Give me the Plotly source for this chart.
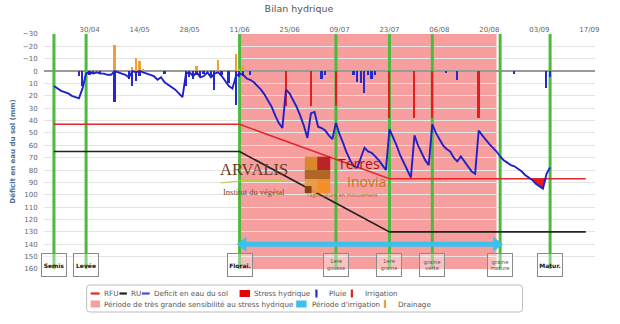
import plotly.graph_objects as go
import numpy as np
import pandas as pd

YEAR = "2019"

# ---------------- data ----------------
deficit_dates = [
    "04-20", "04-21", "04-22", "04-23", "04-24", "04-25", "04-26", "04-27", "04-28", "04-29",
    "04-30", "05-01", "05-02", "05-03", "05-04", "05-05", "05-06", "05-07", "05-08", "05-09",
    "05-10", "05-11", "05-12", "05-13", "05-14", "05-15", "05-16", "05-17", "05-18", "05-19",
    "05-20", "05-21", "05-22", "05-23", "05-24", "05-25", "05-26", "05-27", "05-28", "05-29",
    "05-30", "05-31", "06-01", "06-02", "06-03", "06-04", "06-05", "06-06", "06-07", "06-08",
    "06-09", "06-10", "06-11", "06-12", "06-13", "06-14", "06-15", "06-16", "06-17", "06-18",
    "06-19", "06-20", "06-21", "06-22", "06-23", "06-24", "06-25", "06-26", "06-27", "06-28",
    "06-29", "06-30", "07-01", "07-02", "07-03", "07-04", "07-05", "07-06", "07-07", "07-08",
    "07-09", "07-10", "07-11", "07-12", "07-13", "07-14", "07-15", "07-16", "07-17", "07-18",
    "07-19", "07-20", "07-21", "07-22", "07-23", "07-24", "07-25", "07-26", "07-27", "07-28",
    "07-29", "07-30", "07-31", "08-01", "08-02", "08-03", "08-04", "08-05", "08-06", "08-07",
    "08-08", "08-09", "08-10", "08-11", "08-12", "08-13", "08-14", "08-15", "08-16", "08-17",
    "08-18", "08-19", "08-20", "08-21", "08-22", "08-23", "08-24", "08-25", "08-26", "08-27",
    "08-28", "08-29", "08-30", "08-31", "09-01", "09-02", "09-03", "09-04", "09-05", "09-06",
]
deficit_values = [
    12, 14, 16, 17, 18, 20, 21, 22, 14, 2,
    1, 2, 1, 2, 2, 3, 3, 0, 1, 2,
    3, 5, 0, 1, 0, 1, 2, 3, 4, 7,
    5, 9, 11, 13, 15, 18, 21, 2, 1, 4,
    1, 5, 4, 1, 5, 2, 1, 4, 8, 12,
    14, 4, 2, 3, 6, 7, 9, 12, 15, 19,
    24, 29, 36, 42, 46, 15, 18, 23, 29, 36,
    44, 54, 34, 33, 45, 46, 48, 52, 55, 42,
    51, 58, 66, 72, 77, 78, 70, 62, 65, 66,
    69, 72, 76, 80, 47, 53, 60, 68, 74, 80,
    86, 52, 60, 66, 72, 76, 43, 50, 55, 60,
    63, 65, 70, 73, 69, 73, 77, 81, 83, 48,
    52, 56, 59, 62, 65, 69, 72, 74, 76, 77,
    79, 81, 84, 86, 88, 91, 93, 95, 83, 78,
]

rain_dates = [
    "04-27", "04-28", "04-30", "05-01", "05-03", "05-07", "05-11", "05-12", "05-13", "05-14",
    "05-21", "05-27", "05-28", "05-29", "05-30", "05-31", "06-01", "06-03", "06-04", "06-06",
    "06-08", "06-10", "06-11", "06-12", "06-14", "07-04", "07-05", "07-13", "07-14", "07-15",
    "07-16", "07-17", "07-18", "07-19", "08-08", "08-11", "08-27", "09-05", "09-06",
]
rain_values = [
    4, 12, 3, 2, 2, 25, 6, 12, 8, 4,
    2, 12, 5, 6, 3, 4, 2, 5, 15, 3,
    10, 27, 5, 4, 3, 6, 3, 3, 9, 10,
    18, 3, 6, 3, 1, 7, 2, 14, 5,
]

irrigation_dates = ["06-24", "07-01", "07-08", "07-23", "07-30", "08-04", "08-17"]
irrigation_values = [28, 28, 28, 38, 38, 38, 38]

drainage_dates = ["05-07", "05-12", "05-13", "05-14", "05-15", "05-30", "06-05", "06-10", "06-11", "06-12"]
drainage_values = [-21, -3, -11, -8, -2, -4, -9, -14, -2, -4]

rfu_dates = ["04-20", "06-11", "07-23", "09-16"]
rfu_values = [43, 43, 87, 87]

ru_dates = ["04-20", "06-11", "07-23", "09-16"]
ru_values = [65, 65, 130, 130]

stage_names = ["Semis", "Levée", "Florai.", "1ere<br>gousse", "1ere<br>graine",
               "graine<br>verte", "graine<br>mature", "Matur."]
stage_dates = ["04-20", "04-29", "06-11", "07-08", "07-23", "08-04", "08-23", "09-06"]

sensitive_period = ["06-11", "08-22"]
irrigation_period = ["06-12", "08-22"]
irrigation_period_level = 140

x_tick_dates = ["04-30", "05-14", "05-28", "06-11", "06-25", "07-09", "07-23",
                "08-06", "08-20", "09-03", "09-17"]
x_tick_labels = ["30/04", "14/05", "28/05", "11/06", "25/06", "09/07", "23/07",
                 "06/08", "20/08", "03/09", "17/09"]
y_tick_values = [-30, -20, -10, 0, 10, 20, 30, 40, 50, 60, 70, 80, 90, 100,
                 110, 120, 130, 140, 150, 160]

title_text = "Bilan hydrique"
y_title = "Déficit en eau du sol (mm)"


def full(md_list):
    return [f"{YEAR}-{md}" for md in md_list]


# ---------------- styles ----------------
FONT = "DejaVu Sans"
C_RFU = "#e3282a"
C_RU = "#222222"
C_DEF = "#2020c8"
C_RAIN = "#2828d0"
C_IRR = "#e02020"
C_DRAIN = "#f0a030"
C_STRESS = "#e41e1e"
C_PINK = "#f79e9e"
C_CYAN = "#3cc0ee"
C_GREEN = "#4cba3c"
DAY_MS = 86400000

W, H = 620, 324
ML, MR, MT, MB = 40, 25, 34, 55
PW, PH = W - ML - MR, H - MT - MB


def xp(px):
    return (px - ML) / PW


def yp(py):
    return (H - MB - py) / PH


fig = go.Figure()

# bars
fig.add_trace(go.Bar(x=full(rain_dates), y=rain_values, base=0, width=0.5 * DAY_MS,
                     marker=dict(color=C_RAIN, line=dict(width=0)), name="Pluie",
                     showlegend=False))
fig.add_trace(go.Bar(x=full(irrigation_dates), y=irrigation_values, base=0, width=0.5 * DAY_MS,
                     marker=dict(color=C_IRR, line=dict(width=0)), name="Irrigation",
                     showlegend=False))
fig.add_trace(go.Bar(x=full(drainage_dates), y=drainage_values, base=0, width=0.5 * DAY_MS,
                     marker=dict(color=C_DRAIN, line=dict(width=0)), name="Drainage",
                     showlegend=False))

# irrigation period arrow
fig.add_trace(go.Scatter(
    x=full(irrigation_period), y=[irrigation_period_level] * 2, mode="lines+markers",
    line=dict(color=C_CYAN, width=5),
    marker=dict(symbol=["triangle-left", "triangle-right"], size=13, color=C_CYAN),
    name="Période d'irrigation", showlegend=False, hoverinfo="skip"))

# RFU / RU
fig.add_trace(go.Scatter(x=full(rfu_dates), y=rfu_values, mode="lines",
                         line=dict(color=C_RFU, width=1.6), name="RFU", showlegend=False))
fig.add_trace(go.Scatter(x=full(ru_dates), y=ru_values, mode="lines",
                         line=dict(color=C_RU, width=1.6), name="RU", showlegend=False))

# stress hydrique fill (deficit beyond RFU)
dd = pd.to_datetime(full(deficit_dates))
rd = pd.to_datetime(full(rfu_dates))
d_num = (dd - rd[0]).days.values.astype(float)
r_num = (rd - rd[0]).days.values.astype(float)
rfu_at = np.interp(d_num, r_num, rfu_values)
upper = np.maximum(np.array(deficit_values, float), rfu_at)
fig.add_trace(go.Scatter(x=full(deficit_dates), y=rfu_at, mode="lines", line=dict(width=0),
                         showlegend=False, hoverinfo="skip"))
fig.add_trace(go.Scatter(x=full(deficit_dates), y=upper, mode="lines", line=dict(width=0),
                         fill="tonexty", fillcolor=C_STRESS, name="Stress hydrique",
                         showlegend=False, hoverinfo="skip"))

# deficit
fig.add_trace(go.Scatter(x=full(deficit_dates), y=deficit_values, mode="lines",
                         line=dict(color=C_DEF, width=1.9), name="Deficit en eau du sol",
                         showlegend=False))

shapes = []
# sensitivity period
shapes.append(dict(type="rect", xref="x", yref="y", x0=full(sensitive_period)[0],
                   x1=full(sensitive_period)[1], y0=y_tick_values[0], y1=y_tick_values[-1],
                   fillcolor=C_PINK, line=dict(width=0), layer="below"))
# stage lines
for d in full(stage_dates):
    shapes.append(dict(type="line", xref="x", yref="y", x0=d, x1=d,
                       y0=y_tick_values[0], y1=y_tick_values[-1],
                       line=dict(color=C_GREEN, width=3), layer="between"))

annotations = []
# stage boxes
for name, d in zip(stage_names, full(stage_dates)):
    single = "<br>" not in name
    annotations.append(dict(
        x=d, y=157, xref="x", yref="y", showarrow=False,
        text=f"<b>{name}</b>" if single else name,
        font=dict(family=FONT, size=6 if single else 5.3, color="#111" if single else "#555"),
        width=22, height=20, align="center", valign="middle",
        bgcolor="rgba(255,255,255,0.35)", bordercolor="#8a8a8a", borderwidth=1, borderpad=1))

# ---- manual legend ----
LX0, LX1, LY0, LY1 = 83, 522, 285, 312
r = 3
rx, ry = r / PW, r / PH
x0, x1, y0, y1 = xp(LX0), xp(LX1), yp(LY1), yp(LY0)
path = (f"M {x0+rx},{y0} L {x1-rx},{y0} Q {x1},{y0} {x1},{y0+ry} L {x1},{y1-ry} "
        f"Q {x1},{y1} {x1-rx},{y1} L {x0+rx},{y1} Q {x0},{y1} {x0},{y1-ry} "
        f"L {x0},{y0+ry} Q {x0},{y0} {x0+rx},{y0} Z")
shapes.append(dict(type="path", xref="paper", yref="paper", path=path,
                   line=dict(color="#bdbdbd", width=1), fillcolor="white", layer="above"))

ROW1, ROW2 = 293.5, 304
LEG_FS = 7.2


def leg_line(xa, xb, yy, color):
    shapes.append(dict(type="line", xref="paper", yref="paper", x0=xp(xa), x1=xp(xb),
                       y0=yp(yy), y1=yp(yy), line=dict(color=color, width=2.2), layer="above"))


def leg_rect(xa, xb, yy, color, h=7):
    shapes.append(dict(type="rect", xref="paper", yref="paper", x0=xp(xa), x1=xp(xb),
                       y0=yp(yy + h / 2), y1=yp(yy - h / 2), fillcolor=color,
                       line=dict(width=0), layer="above"))


def leg_text(xa, yy, txt):
    annotations.append(dict(x=xp(xa), y=yp(yy), xref="paper", yref="paper", text=txt,
                            showarrow=False, xanchor="left", yanchor="middle",
                            font=dict(family=FONT, size=LEG_FS, color="#555")))


leg_line(87, 96, ROW1, C_RFU); leg_text(98.5, ROW1, "RFU")
leg_line(116, 123.5, ROW1, C_RU); leg_text(125.5, ROW1, "RU")
leg_line(138.5, 146.5, ROW1, "#4a4ae0"); leg_text(148.5, ROW1, "Deficit en eau du sol")
leg_rect(237, 247.5, ROW1, "#e60000"); leg_text(250, ROW1, "Stress hydrique")
leg_rect(313.3, 315.5, ROW1, C_RAIN, h=8); leg_text(325.5, ROW1, "Pluie")
leg_rect(349, 351.2, ROW1, C_IRR, h=8); leg_text(361.5, ROW1, "Irrigation")
leg_rect(87, 96.5, ROW2, C_PINK); leg_text(98.5, ROW2, "Période de très grande sensibilité au stress hydrique")
leg_rect(294, 304.5, ROW2, C_CYAN); leg_text(308, ROW2, "Période d'irrigation")
leg_rect(382.3, 384.5, ROW2, C_DRAIN, h=8); leg_text(395, ROW2, "Drainage")

# ---- partner logos (text) ----
annotations.append(dict(x=xp(252), y=yp(169.5), xref="paper", yref="paper", text="ARVALIS",
                        showarrow=False, xanchor="center", yanchor="middle",
                        font=dict(family="Liberation Serif", size=16.5, color="#6e3b1e")))
annotations.append(dict(x=xp(252), y=yp(191.5), xref="paper", yref="paper",
                        text="Institut du végétal", showarrow=False, xanchor="center",
                        yanchor="middle",
                        font=dict(family="Liberation Serif", size=8.5, color="#6f4a3a")))
shapes.append(dict(type="path", xref="paper", yref="paper",
                   path=f"M {xp(218)},{yp(183)} Q {xp(252)},{yp(178)} {xp(286)},{yp(181.5)}",
                   line=dict(color="#b8cc3a", width=1.2), layer="above"))
logo_cells = [
    (302.7, 315.2, 156.7, 170, "#d4861f"),
    (315.2, 328.3, 156.7, 170, "#b3161b"),
    (302.7, 328.3, 170, 179, "#a85f18"),
    (302.7, 315.2, 179, 193, "#e89a3c"),
    (315.2, 328.3, 179, 193, "#f28c1e"),
    (302.7, 309.5, 186, 193, "#7a3b10"),
]
for a, b, c, e, col in logo_cells:
    shapes.append(dict(type="rect", xref="paper", yref="paper", x0=xp(a), x1=xp(b),
                       y0=yp(e), y1=yp(c), fillcolor=col, line=dict(width=0),
                       layer="above", opacity=0.9))
annotations.append(dict(x=xp(334), y=yp(163), xref="paper", yref="paper", text="Terres",
                        showarrow=False, xanchor="left", yanchor="middle",
                        font=dict(family="Open Sans", size=14, color="#a3161a")))
annotations.append(dict(x=xp(343), y=yp(181), xref="paper", yref="paper", text="Inovia",
                        showarrow=False, xanchor="left", yanchor="middle",
                        font=dict(family="Open Sans", size=14, color="#c8741e")))
annotations.append(dict(x=xp(303), y=yp(195), xref="paper", yref="paper",
                        text="l'agriculture en mouvement", showarrow=False, xanchor="left",
                        yanchor="middle",
                        font=dict(family="Open Sans", size=5.5, color="#b06a30")))

fig.update_layout(
    width=W, height=H, autosize=False,
    margin=dict(l=ML, r=MR, t=MT, b=MB, pad=0),
    paper_bgcolor="white", plot_bgcolor="white",
    barmode="overlay", bargap=0,
    showlegend=False,
    font=dict(family=FONT, size=7, color="#666"),
    title=dict(text=title_text, x=299 / W, xref="container", xanchor="center",
               y=1 - 8.5 / H, yref="container", yanchor="middle",
               font=dict(family=FONT, size=9.5, color="#555")),
    xaxis=dict(type="date", side="top",
               range=[f"{YEAR}-04-17 05:00", f"{YEAR}-09-18 14:00"],
               tickvals=full(x_tick_dates), ticktext=x_tick_labels,
               showgrid=False, zeroline=False, showline=False,
               ticks="", tickfont=dict(family=FONT, size=7, color="#666")),
    yaxis=dict(range=[y_tick_values[-1], y_tick_values[0]], tickvals=y_tick_values,
               showgrid=True, gridcolor="#e4e4e4", gridwidth=1,
               zeroline=True, zerolinecolor="#9a9a9a", zerolinewidth=1.5,
               showline=False, ticks="outside", ticklen=4, tickcolor="rgba(0,0,0,0)",
               tickfont=dict(family=FONT, size=7, color="#666"),
               title=dict(text=f"<b>{y_title}</b>", standoff=6,
                          font=dict(family=FONT, size=7, color="#4f7191"))),
    shapes=shapes,
    annotations=annotations,
)

fig.write_html("out.html")
